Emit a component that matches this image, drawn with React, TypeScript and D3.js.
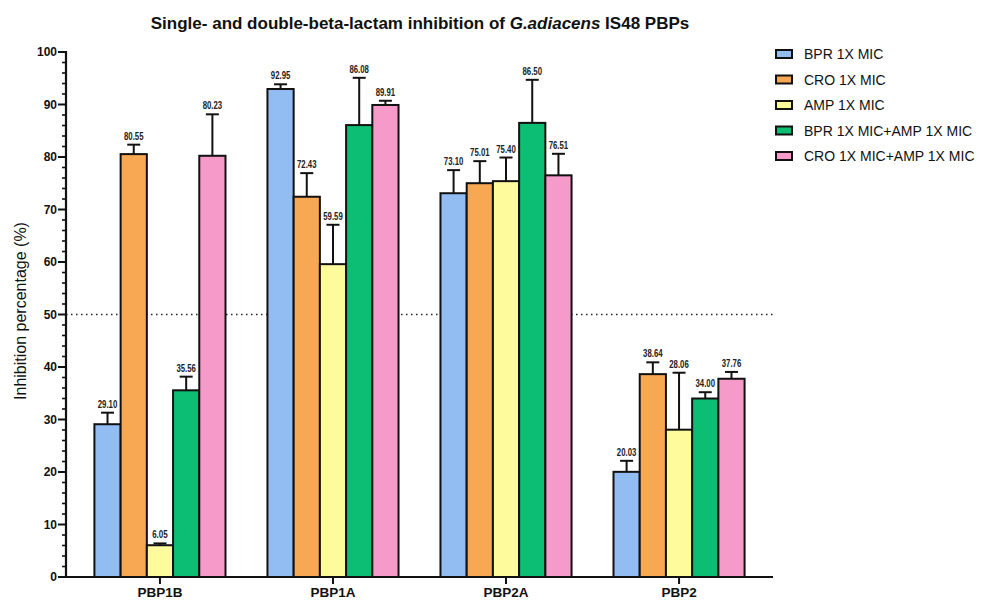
import React from "react";
import * as d3 from "d3";

const groups = ["PBP1B", "PBP1A", "PBP2A", "PBP2"];
const seriesNames = [
  "BPR 1X MIC",
  "CRO 1X MIC",
  "AMP 1X MIC",
  "BPR 1X MIC+AMP 1X MIC",
  "CRO 1X MIC+AMP 1X MIC",
];
const seriesColors = ["#92BDF3", "#F8A752", "#FEFB9D", "#0BBE73", "#F59AC9"];

// mean inhibition per series, one entry per PBP group
const bprMean = [29.1, 92.95, 73.1, 20.03];
const croMean = [80.55, 72.43, 75.01, 38.64];
const ampMean = [6.05, 59.59, 75.4, 28.06];
const bprAmpMean = [35.56, 86.08, 86.5, 34.0];
const croAmpMean = [80.23, 89.91, 76.51, 37.76];

// standard deviation (upper error bar) per series
const bprSd = [2.2, 0.9, 4.4, 2.1];
const croSd = [1.8, 4.5, 4.2, 2.25];
const ampSd = [0.35, 7.5, 4.5, 10.85];
const bprAmpSd = [2.6, 9.0, 8.2, 1.2];
const croAmpSd = [7.9, 0.8, 4.1, 1.3];

const means = [bprMean, croMean, ampMean, bprAmpMean, croAmpMean];
const sds = [bprSd, croSd, ampSd, bprAmpSd, croAmpSd];

const yTicks = [0, 10, 20, 30, 40, 50, 60, 70, 80, 90, 100];
const threshold = 50;

const W = 981;
const H = 601;
const left = 66;
const right = 773;
const top = 52;
const bottom = 577;

export default function App() {
  const y = d3.scaleLinear().domain([0, 100]).range([bottom, top]);
  const x0 = d3
    .scaleBand<string>()
    .domain(groups)
    .range([left, right])
    .paddingInner(0)
    .paddingOuter(0.043);
  const x1 = d3
    .scaleBand<string>()
    .domain(seriesNames)
    .range([0, x0.bandwidth()])
    .paddingInner(0)
    .paddingOuter(0.8);
  const minorTicks = d3.range(0, 101, 2).filter((v) => v % 10 !== 0);
  const bw = x1.bandwidth();
  const font = "'Liberation Sans', Arial, sans-serif";

  return (
    <svg
      width={W}
      height={H}
      style={{ position: "absolute", left: 0, top: 0, background: "#fff" }}
      fontFamily={font}
    >
      <text x={420} y={29} textAnchor="middle" fontSize={17} fontWeight="bold" fill="#111">
        Single- and double-beta-lactam inhibition of <tspan fontStyle="italic">G.adiacens</tspan> IS48 PBPs
      </text>

      {/* threshold line */}
      <line
        x1={left}
        x2={right}
        y1={y(threshold)}
        y2={y(threshold)}
        stroke="#222"
        strokeWidth={1.3}
        strokeDasharray="1.5,3.5"
      />

      {/* bars, error bars and value labels */}
      {groups.map((g, gi) => (
        <g key={g} transform={`translate(${x0(g)},0)`}>
          {seriesNames.map((s, si) => {
            const v = means[si][gi];
            const e = sds[si][gi];
            const bx = x1(s)!;
            const cx = bx + bw / 2;
            const label = v.toFixed(2);
            return (
              <g key={s}>
                <rect
                  x={bx}
                  y={y(v)}
                  width={bw}
                  height={y(0) - y(v)}
                  fill={seriesColors[si]}
                  stroke="#111"
                  strokeWidth={2}
                />
                <line x1={cx} x2={cx} y1={y(v)} y2={y(v + e)} stroke="#111" strokeWidth={2} />
                <line x1={cx - 6.5} x2={cx + 6.5} y1={y(v + e)} y2={y(v + e)} stroke="#111" strokeWidth={2} />
                <text
                  x={cx}
                  y={y(v + e) - 5}
                  textAnchor="middle"
                  fontSize={10}
                  fontWeight="bold"
                  textLength={label.length * 3.9}
                  lengthAdjust="spacingAndGlyphs"
                  fill="#222"
                >
                  {label}
                </text>
              </g>
            );
          })}
        </g>
      ))}

      {/* y axis */}
      <line x1={left} x2={left} y1={top - 1} y2={bottom + 1} stroke="#111" strokeWidth={2.2} />
      {minorTicks.map((t) => (
        <line key={t} x1={left - 4} x2={left} y1={y(t)} y2={y(t)} stroke="#111" strokeWidth={1.6} />
      ))}
      {yTicks.map((t) => (
        <g key={t}>
          <line x1={left - 8} x2={left} y1={y(t)} y2={y(t)} stroke="#111" strokeWidth={2} />
          <text
            x={left - 9}
            y={y(t)}
            dy="0.36em"
            textAnchor="end"
            fontSize={12}
            fontWeight="bold"
            fill="#111"
          >
            {t}
          </text>
        </g>
      ))}
      <text
        transform={`translate(26,311) rotate(-90)`}
        textAnchor="middle"
        fontSize={16}
        fill="#111"
      >
        Inhibition percentage (%)
      </text>

      {/* x axis */}
      <line x1={left - 1} x2={right} y1={bottom} y2={bottom} stroke="#111" strokeWidth={2.2} />
      {groups.map((g) => {
        const cx = x0(g)! + x0.bandwidth() / 2;
        return (
          <g key={g}>
            <line x1={cx} x2={cx} y1={bottom} y2={bottom + 7} stroke="#111" strokeWidth={2} />
            <text x={cx} y={597} textAnchor="middle" fontSize={13.5} fontWeight="bold" fill="#111">
              {g}
            </text>
          </g>
        );
      })}

      {/* legend */}
      {seriesNames.map((s, i) => {
        const ly = 54 + i * 25.5;
        return (
          <g key={s}>
            <rect x={776} y={ly - 4} width={16} height={8} fill={seriesColors[i]} stroke="#111" strokeWidth={2} />
            <text x={804} y={ly} dy="0.36em" fontSize={14} fill="#111">
              {s}
            </text>
          </g>
        );
      })}
    </svg>
  );
}
